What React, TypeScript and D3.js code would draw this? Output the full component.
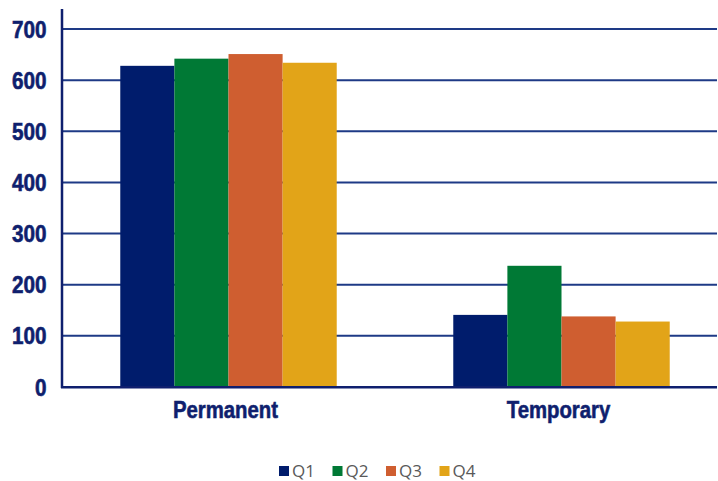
import React from "react";
import * as d3 from "d3";

const categories = ["Permanent", "Temporary"];
const seriesNames = ["Q1", "Q2", "Q3", "Q4"];
const q1 = [628, 141];
const q2 = [642, 237];
const q3 = [651, 138];
const q4 = [634, 128];
const yTicks = [0, 100, 200, 300, 400, 500, 600, 700];
const colors = ["#001C6C", "#007935", "#CF5E30", "#E2A418"];

const W = 718;
const H = 481;
const navy = "#0F1F6E";

export default function App() {
  const seriesValues = [q1, q2, q3, q4];
  const x0 = d3.scaleBand<string>().domain(categories).range([62, 728]).paddingInner(0.35).paddingOuter(0.175);
  const x1 = d3.scaleBand<string>().domain(seriesNames).range([0, x0.bandwidth()]);
  const y = d3.scaleLinear().domain([0, 700]).range([387, 29]);
  const labelFont = "'Liberation Sans', Arial, sans-serif";

  return (
    <svg width={W} height={H} style={{ position: "absolute", left: 0, top: 0, background: "#fff" }}>
      {yTicks.filter((t) => t > 0).map((t) => (
        <line key={t} x1={62} x2={717} y1={y(t)} y2={y(t)} stroke="#1E3A86" strokeWidth={2} />
      ))}
      {categories.map((c, ci) => (
        <g key={c} transform={`translate(${x0(c)},0)`}>
          {seriesNames.map((s, si) => {
            const v = seriesValues[si][ci];
            return (
              <rect
                key={s}
                x={x1(s)}
                y={y(v)}
                width={x1.bandwidth()}
                height={y(0) - y(v)}
                fill={colors[si]}
              />
            );
          })}
        </g>
      ))}
      <line x1={62} x2={62} y1={9} y2={388} stroke={navy} strokeWidth={2.5} />
      <line x1={61} x2={717} y1={387.3} y2={387.3} stroke={navy} strokeWidth={2.6} />
      {yTicks.map((t) => (
        <text
          key={t}
          transform={`translate(46.5,${y(t) + 8.5}) scale(0.9,1)`}
          textAnchor="end"
          fontFamily={labelFont}
          fontWeight="bold"
          fontSize={23}
          fill={navy}
          stroke={navy}
          strokeWidth={0.6}
        >
          {t}
        </text>
      ))}
      {categories.map((c) => (
        <text
          key={c}
          transform={`translate(${(x0(c) as number) + x0.bandwidth() / 2 - 3},418) scale(0.83,1)`}
          textAnchor="middle"
          fontFamily={labelFont}
          fontWeight="bold"
          fontSize={24.5}
          fill={navy}
          stroke={navy}
          strokeWidth={0.6}
        >
          {c}
        </text>
      ))}
      {seriesNames.map((s, i) => (
        <g key={s} transform={`translate(${279 + i * 53.5},466)`}>
          <rect x={0} y={0} width={10} height={10} fill={colors[i]} />
          <text x={13} y={11} fontFamily="'Open Sans', sans-serif" fontSize={17} fill="#595959">
            {s}
          </text>
        </g>
      ))}
    </svg>
  );
}
